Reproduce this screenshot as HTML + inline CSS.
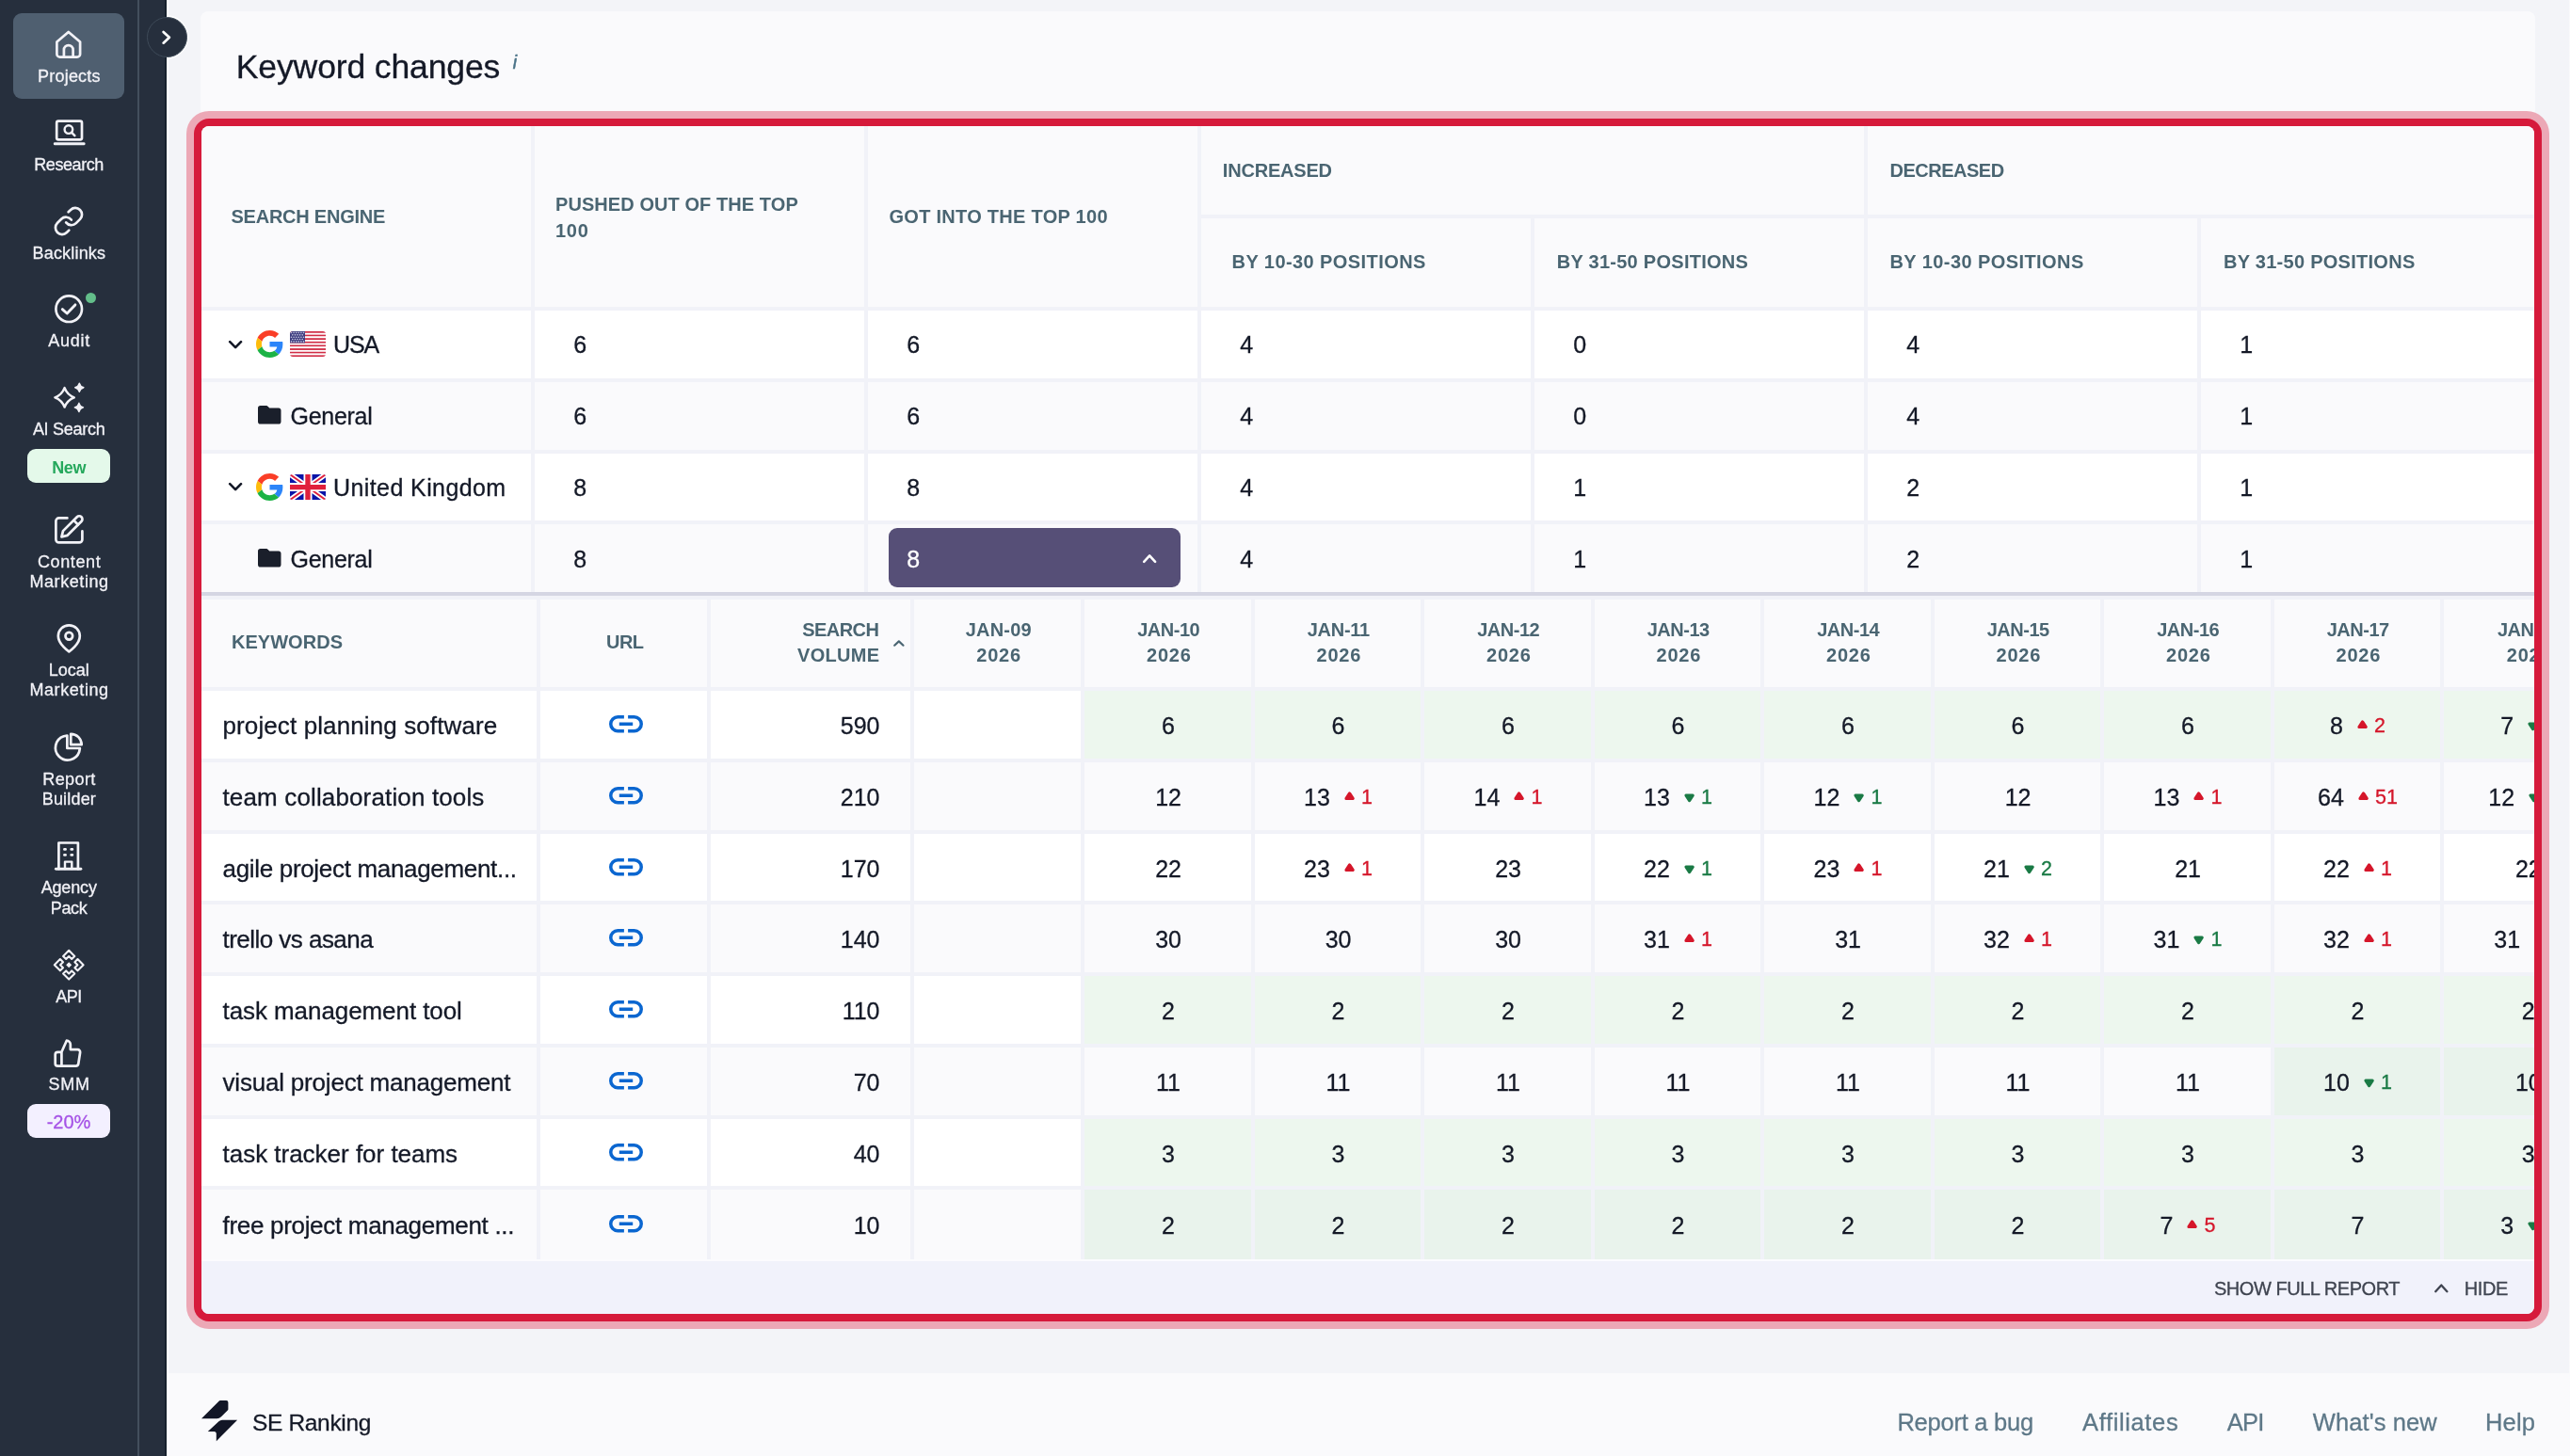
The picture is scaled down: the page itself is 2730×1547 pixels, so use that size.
<!DOCTYPE html>
<html lang="en"><head><meta charset="utf-8"><title>Keyword changes</title>
<style>
html,body{margin:0;padding:0}
body{width:2730px;height:1547px;background:#F3F4F8;position:relative;font-family:"Liberation Sans",sans-serif;color:#141927}
div{box-sizing:border-box}
#r{-webkit-text-stroke:0.3px}
svg{position:absolute;overflow:visible}
#r{position:absolute;left:0;top:0;width:2730px;height:1547px;overflow:hidden;will-change:transform}
</style></head><body><div id="r">
<div style="position:absolute;left:213px;top:12px;width:2480px;height:1388px;background:#FAFAFC;border-radius:8px;"></div>
<div style="position:absolute;top:54px;font-size:35.6px;line-height:35.6px;color:#141927;white-space:nowrap;letter-spacing:-0.165px;left:250.80px;">Keyword changes</div>
<div style="position:absolute;top:57px;font-size:19.5px;line-height:19.5px;color:#4B7388;white-space:nowrap;left:544.80px;font-style:italic;-webkit-text-stroke:0.5px;">i</div>
<div style="position:absolute;left:198px;top:118px;width:2510px;height:1294px;background:#ECA8B6;border-radius:24px;"></div>
<div style="position:absolute;left:206px;top:126px;width:2494px;height:1278px;background:#D61A3B;border-radius:16px;"></div>
<div style="position:absolute;left:214px;top:134px;width:2478px;height:1262px;border-radius:8px;overflow:hidden;background:#F1F2F8">
<div style="position:absolute;left:0px;top:0px;width:350px;height:192px;background:#FAFAFC;"></div>
<div style="position:absolute;left:354px;top:0px;width:350px;height:192px;background:#FAFAFC;"></div>
<div style="position:absolute;left:708px;top:0px;width:350px;height:192px;background:#FAFAFC;"></div>
<div style="position:absolute;left:1062px;top:0px;width:704px;height:94px;background:#FAFAFC;"></div>
<div style="position:absolute;left:1770px;top:0px;width:708px;height:94px;background:#FAFAFC;"></div>
<div style="position:absolute;left:1062px;top:98px;width:350px;height:94px;background:#FAFAFC;"></div>
<div style="position:absolute;left:1416px;top:98px;width:350px;height:94px;background:#FAFAFC;"></div>
<div style="position:absolute;left:1770px;top:98px;width:350px;height:94px;background:#FAFAFC;"></div>
<div style="position:absolute;left:2124px;top:98px;width:354px;height:94px;background:#FAFAFC;"></div>
<div style="position:absolute;top:86px;font-size:20px;line-height:20px;color:#4A6572;white-space:nowrap;font-weight:700;-webkit-text-stroke:0;letter-spacing:-0.238px;left:31.50px;">SEARCH ENGINE</div>
<div style="position:absolute;top:73px;font-size:20px;line-height:20px;color:#4A6572;white-space:nowrap;font-weight:700;-webkit-text-stroke:0;letter-spacing:0.071px;left:376.00px;">PUSHED OUT OF THE TOP</div>
<div style="position:absolute;top:101px;font-size:20px;line-height:20px;color:#4A6572;white-space:nowrap;font-weight:700;-webkit-text-stroke:0;letter-spacing:0.711px;left:376.00px;">100</div>
<div style="position:absolute;top:86px;font-size:20px;line-height:20px;color:#4A6572;white-space:nowrap;font-weight:700;-webkit-text-stroke:0;letter-spacing:0.279px;left:730.50px;">GOT INTO THE TOP 100</div>
<div style="position:absolute;top:37px;font-size:20px;line-height:20px;color:#4A6572;white-space:nowrap;font-weight:700;-webkit-text-stroke:0;letter-spacing:-0.200px;left:1084.80px;">INCREASED</div>
<div style="position:absolute;top:37px;font-size:20px;line-height:20px;color:#4A6572;white-space:nowrap;font-weight:700;-webkit-text-stroke:0;letter-spacing:-0.498px;left:1793.50px;">DECREASED</div>
<div style="position:absolute;top:134px;font-size:20px;line-height:20px;color:#4A6572;white-space:nowrap;font-weight:700;-webkit-text-stroke:0;letter-spacing:0.423px;left:1094.60px;">BY 10-30 POSITIONS</div>
<div style="position:absolute;top:134px;font-size:20px;line-height:20px;color:#4A6572;white-space:nowrap;font-weight:700;-webkit-text-stroke:0;letter-spacing:0.273px;left:1439.70px;">BY 31-50 POSITIONS</div>
<div style="position:absolute;top:134px;font-size:20px;line-height:20px;color:#4A6572;white-space:nowrap;font-weight:700;-webkit-text-stroke:0;letter-spacing:0.423px;left:1793.50px;">BY 10-30 POSITIONS</div>
<div style="position:absolute;top:134px;font-size:20px;line-height:20px;color:#4A6572;white-space:nowrap;font-weight:700;-webkit-text-stroke:0;letter-spacing:0.273px;left:2148.00px;">BY 31-50 POSITIONS</div>
<div style="position:absolute;left:0px;top:196px;width:350px;height:71.75px;background:#FFFFFF;"></div>
<div style="position:absolute;left:354px;top:196px;width:350px;height:71.75px;background:#FFFFFF;"></div>
<div style="position:absolute;left:708px;top:196px;width:350px;height:71.75px;background:#FFFFFF;"></div>
<div style="position:absolute;left:1062px;top:196px;width:350px;height:71.75px;background:#FFFFFF;"></div>
<div style="position:absolute;left:1416px;top:196px;width:350px;height:71.75px;background:#FFFFFF;"></div>
<div style="position:absolute;left:1770px;top:196px;width:350px;height:71.75px;background:#FFFFFF;"></div>
<div style="position:absolute;left:2124px;top:196px;width:354px;height:71.75px;background:#FFFFFF;"></div>
<svg style="left:28.80px;top:227.68px" width="14.2" height="8.5" viewBox="0 0 14.2 8.5" ><path d="M1.2 1.2 L7.1 7.1 L13.0 1.2" fill="none" stroke="#141927" stroke-width="2.6" stroke-linecap="round" stroke-linejoin="round"/></svg>
<svg style="left:57.60px;top:217.18px" width="29" height="29" viewBox="0 0 48 48" ><path fill="#FA3E27" d="M24 9.5c3.54 0 6.71 1.22 9.21 3.6l6.85-6.85C35.9 2.38 30.47 0 24 0 14.62 0 6.51 5.38 2.56 13.22l7.98 6.19C12.43 13.72 17.74 9.5 24 9.5z"/><path fill="#2C85F9" d="M46.98 24.55c0-1.57-.15-3.09-.38-4.55H24v9.02h12.94c-.58 2.96-2.26 5.48-4.78 7.18l7.73 6c4.51-4.18 7.09-10.36 7.09-17.65z"/><path fill="#FDBC0B" d="M10.53 28.59c-.48-1.45-.76-2.99-.76-4.59s.27-3.14.76-4.59l-7.98-6.19C.92 16.46 0 20.12 0 24c0 3.88.92 7.54 2.56 10.78l7.97-6.19z"/><path fill="#1CB345" d="M24 48c6.48 0 11.93-2.13 15.89-5.81l-7.73-6c-2.15 1.45-4.92 2.3-8.16 2.3-6.26 0-11.57-4.22-13.47-9.91l-7.98 6.19C6.51 42.62 14.62 48 24 48z"/></svg>
<svg style="overflow:hidden;border-radius:3.2px;left:93.80px;top:218.07px" width="38" height="27.2" viewBox="0 0 38 27.2" ><rect x="0" y="0.000" width="38" height="1.863" fill="#D02C45"/><rect x="0" y="1.813" width="38" height="1.863" fill="#FFFFFF"/><rect x="0" y="3.627" width="38" height="1.863" fill="#D02C45"/><rect x="0" y="5.440" width="38" height="1.863" fill="#FFFFFF"/><rect x="0" y="7.253" width="38" height="1.863" fill="#D02C45"/><rect x="0" y="9.067" width="38" height="1.863" fill="#FFFFFF"/><rect x="0" y="10.880" width="38" height="1.863" fill="#D02C45"/><rect x="0" y="12.693" width="38" height="1.863" fill="#FFFFFF"/><rect x="0" y="14.507" width="38" height="1.863" fill="#D02C45"/><rect x="0" y="16.320" width="38" height="1.863" fill="#FFFFFF"/><rect x="0" y="18.133" width="38" height="1.863" fill="#D02C45"/><rect x="0" y="19.947" width="38" height="1.863" fill="#FFFFFF"/><rect x="0" y="21.760" width="38" height="1.863" fill="#D02C45"/><rect x="0" y="23.573" width="38" height="1.863" fill="#FFFFFF"/><rect x="0" y="25.387" width="38" height="1.863" fill="#D02C45"/><rect x="0" y="0" width="16" height="12.4" fill="#3F3E80"/><circle cx="1.50" cy="1.50" r="0.8" fill="#C9C9E2"/><circle cx="4.10" cy="1.50" r="0.8" fill="#C9C9E2"/><circle cx="6.70" cy="1.50" r="0.8" fill="#C9C9E2"/><circle cx="9.30" cy="1.50" r="0.8" fill="#C9C9E2"/><circle cx="11.90" cy="1.50" r="0.8" fill="#C9C9E2"/><circle cx="14.50" cy="1.50" r="0.8" fill="#C9C9E2"/><circle cx="2.80" cy="3.85" r="0.8" fill="#C9C9E2"/><circle cx="5.40" cy="3.85" r="0.8" fill="#C9C9E2"/><circle cx="8.00" cy="3.85" r="0.8" fill="#C9C9E2"/><circle cx="10.60" cy="3.85" r="0.8" fill="#C9C9E2"/><circle cx="13.20" cy="3.85" r="0.8" fill="#C9C9E2"/><circle cx="1.50" cy="6.20" r="0.8" fill="#C9C9E2"/><circle cx="4.10" cy="6.20" r="0.8" fill="#C9C9E2"/><circle cx="6.70" cy="6.20" r="0.8" fill="#C9C9E2"/><circle cx="9.30" cy="6.20" r="0.8" fill="#C9C9E2"/><circle cx="11.90" cy="6.20" r="0.8" fill="#C9C9E2"/><circle cx="14.50" cy="6.20" r="0.8" fill="#C9C9E2"/><circle cx="2.80" cy="8.55" r="0.8" fill="#C9C9E2"/><circle cx="5.40" cy="8.55" r="0.8" fill="#C9C9E2"/><circle cx="8.00" cy="8.55" r="0.8" fill="#C9C9E2"/><circle cx="10.60" cy="8.55" r="0.8" fill="#C9C9E2"/><circle cx="13.20" cy="8.55" r="0.8" fill="#C9C9E2"/><circle cx="1.50" cy="10.90" r="0.8" fill="#C9C9E2"/><circle cx="4.10" cy="10.90" r="0.8" fill="#C9C9E2"/><circle cx="6.70" cy="10.90" r="0.8" fill="#C9C9E2"/><circle cx="9.30" cy="10.90" r="0.8" fill="#C9C9E2"/><circle cx="11.90" cy="10.90" r="0.8" fill="#C9C9E2"/><circle cx="14.50" cy="10.90" r="0.8" fill="#C9C9E2"/></svg>
<div style="position:absolute;top:220px;font-size:25px;line-height:25px;color:#141927;white-space:nowrap;letter-spacing:-1.135px;left:140.00px;">USA</div>
<div style="position:absolute;top:220px;font-size:25px;line-height:25px;color:#141927;white-space:nowrap;left:395.30px;">6</div>
<div style="position:absolute;top:220px;font-size:25px;line-height:25px;color:#141927;white-space:nowrap;left:749.30px;">6</div>
<div style="position:absolute;top:220px;font-size:25px;line-height:25px;color:#141927;white-space:nowrap;left:1103.30px;">4</div>
<div style="position:absolute;top:220px;font-size:25px;line-height:25px;color:#141927;white-space:nowrap;left:1457.30px;">0</div>
<div style="position:absolute;top:220px;font-size:25px;line-height:25px;color:#141927;white-space:nowrap;left:1811.30px;">4</div>
<div style="position:absolute;top:220px;font-size:25px;line-height:25px;color:#141927;white-space:nowrap;left:2165.30px;">1</div>
<div style="position:absolute;left:0px;top:271.75px;width:350px;height:71.75px;background:#FAFAFC;"></div>
<div style="position:absolute;left:354px;top:271.75px;width:350px;height:71.75px;background:#FAFAFC;"></div>
<div style="position:absolute;left:708px;top:271.75px;width:350px;height:71.75px;background:#FAFAFC;"></div>
<div style="position:absolute;left:1062px;top:271.75px;width:350px;height:71.75px;background:#FAFAFC;"></div>
<div style="position:absolute;left:1416px;top:271.75px;width:350px;height:71.75px;background:#FAFAFC;"></div>
<div style="position:absolute;left:1770px;top:271.75px;width:350px;height:71.75px;background:#FAFAFC;"></div>
<div style="position:absolute;left:2124px;top:271.75px;width:354px;height:71.75px;background:#FAFAFC;"></div>
<svg style="left:59.70px;top:297.43px" width="24.5" height="19.6" viewBox="0 0 24.5 19.6" ><path d="M2.6 0 H8.6 C9.6 0 10.2 0.4 10.8 1.1 L12.2 2.6 H22 C23.5 2.6 24.5 3.6 24.5 5.1 V17 C24.5 18.6 23.5 19.6 22 19.6 H2.6 C1 19.6 0 18.6 0 17 V2.6 C0 1 1 0 2.6 0 Z" fill="#1A1F2B"/></svg>
<div style="position:absolute;top:296px;font-size:25px;line-height:25px;color:#141927;white-space:nowrap;letter-spacing:-0.276px;left:94.50px;">General</div>
<div style="position:absolute;top:296px;font-size:25px;line-height:25px;color:#141927;white-space:nowrap;left:395.30px;">6</div>
<div style="position:absolute;top:296px;font-size:25px;line-height:25px;color:#141927;white-space:nowrap;left:749.30px;">6</div>
<div style="position:absolute;top:296px;font-size:25px;line-height:25px;color:#141927;white-space:nowrap;left:1103.30px;">4</div>
<div style="position:absolute;top:296px;font-size:25px;line-height:25px;color:#141927;white-space:nowrap;left:1457.30px;">0</div>
<div style="position:absolute;top:296px;font-size:25px;line-height:25px;color:#141927;white-space:nowrap;left:1811.30px;">4</div>
<div style="position:absolute;top:296px;font-size:25px;line-height:25px;color:#141927;white-space:nowrap;left:2165.30px;">1</div>
<div style="position:absolute;left:0px;top:347.5px;width:350px;height:71.75px;background:#FFFFFF;"></div>
<div style="position:absolute;left:354px;top:347.5px;width:350px;height:71.75px;background:#FFFFFF;"></div>
<div style="position:absolute;left:708px;top:347.5px;width:350px;height:71.75px;background:#FFFFFF;"></div>
<div style="position:absolute;left:1062px;top:347.5px;width:350px;height:71.75px;background:#FFFFFF;"></div>
<div style="position:absolute;left:1416px;top:347.5px;width:350px;height:71.75px;background:#FFFFFF;"></div>
<div style="position:absolute;left:1770px;top:347.5px;width:350px;height:71.75px;background:#FFFFFF;"></div>
<div style="position:absolute;left:2124px;top:347.5px;width:354px;height:71.75px;background:#FFFFFF;"></div>
<svg style="left:28.80px;top:379.17px" width="14.2" height="8.5" viewBox="0 0 14.2 8.5" ><path d="M1.2 1.2 L7.1 7.1 L13.0 1.2" fill="none" stroke="#141927" stroke-width="2.6" stroke-linecap="round" stroke-linejoin="round"/></svg>
<svg style="left:57.60px;top:368.68px" width="29" height="29" viewBox="0 0 48 48" ><path fill="#FA3E27" d="M24 9.5c3.54 0 6.71 1.22 9.21 3.6l6.85-6.85C35.9 2.38 30.47 0 24 0 14.62 0 6.51 5.38 2.56 13.22l7.98 6.19C12.43 13.72 17.74 9.5 24 9.5z"/><path fill="#2C85F9" d="M46.98 24.55c0-1.57-.15-3.09-.38-4.55H24v9.02h12.94c-.58 2.96-2.26 5.48-4.78 7.18l7.73 6c4.51-4.18 7.09-10.36 7.09-17.65z"/><path fill="#FDBC0B" d="M10.53 28.59c-.48-1.45-.76-2.99-.76-4.59s.27-3.14.76-4.59l-7.98-6.19C.92 16.46 0 20.12 0 24c0 3.88.92 7.54 2.56 10.78l7.97-6.19z"/><path fill="#1CB345" d="M24 48c6.48 0 11.93-2.13 15.89-5.81l-7.73-6c-2.15 1.45-4.92 2.3-8.16 2.3-6.26 0-11.57-4.22-13.47-9.91l-7.98 6.19C6.51 42.62 14.62 48 24 48z"/></svg>
<svg style="overflow:hidden;border-radius:2.5px;left:93.80px;top:369.57px" width="38" height="27.2" viewBox="0 0 38 27.2" ><rect width="38" height="27.2" fill="#0B14A8"/><path d="M0 0 L38 27.2 M38 0 L0 27.2" stroke="#FFFFFF" stroke-width="5.4"/><path d="M0 0 L38 27.2 M38 0 L0 27.2" stroke="#E0203C" stroke-width="1.9"/><path d="M19 0 V27.2 M0 13.6 H38" stroke="#FFFFFF" stroke-width="9"/><path d="M19 0 V27.2 M0 13.6 H38" stroke="#E0203C" stroke-width="5.4"/></svg>
<div style="position:absolute;top:372px;font-size:25px;line-height:25px;color:#141927;white-space:nowrap;letter-spacing:0.409px;left:140.00px;">United Kingdom</div>
<div style="position:absolute;top:372px;font-size:25px;line-height:25px;color:#141927;white-space:nowrap;left:395.30px;">8</div>
<div style="position:absolute;top:372px;font-size:25px;line-height:25px;color:#141927;white-space:nowrap;left:749.30px;">8</div>
<div style="position:absolute;top:372px;font-size:25px;line-height:25px;color:#141927;white-space:nowrap;left:1103.30px;">4</div>
<div style="position:absolute;top:372px;font-size:25px;line-height:25px;color:#141927;white-space:nowrap;left:1457.30px;">1</div>
<div style="position:absolute;top:372px;font-size:25px;line-height:25px;color:#141927;white-space:nowrap;left:1811.30px;">2</div>
<div style="position:absolute;top:372px;font-size:25px;line-height:25px;color:#141927;white-space:nowrap;left:2165.30px;">1</div>
<div style="position:absolute;left:0px;top:423.25px;width:350px;height:71.75px;background:#FAFAFC;"></div>
<div style="position:absolute;left:354px;top:423.25px;width:350px;height:71.75px;background:#FAFAFC;"></div>
<div style="position:absolute;left:708px;top:423.25px;width:350px;height:71.75px;background:#FAFAFC;"></div>
<div style="position:absolute;left:1062px;top:423.25px;width:350px;height:71.75px;background:#FAFAFC;"></div>
<div style="position:absolute;left:1416px;top:423.25px;width:350px;height:71.75px;background:#FAFAFC;"></div>
<div style="position:absolute;left:1770px;top:423.25px;width:350px;height:71.75px;background:#FAFAFC;"></div>
<div style="position:absolute;left:2124px;top:423.25px;width:354px;height:71.75px;background:#FAFAFC;"></div>
<svg style="left:59.70px;top:448.92px" width="24.5" height="19.6" viewBox="0 0 24.5 19.6" ><path d="M2.6 0 H8.6 C9.6 0 10.2 0.4 10.8 1.1 L12.2 2.6 H22 C23.5 2.6 24.5 3.6 24.5 5.1 V17 C24.5 18.6 23.5 19.6 22 19.6 H2.6 C1 19.6 0 18.6 0 17 V2.6 C0 1 1 0 2.6 0 Z" fill="#1A1F2B"/></svg>
<div style="position:absolute;top:448px;font-size:25px;line-height:25px;color:#141927;white-space:nowrap;letter-spacing:-0.276px;left:94.50px;">General</div>
<div style="position:absolute;top:448px;font-size:25px;line-height:25px;color:#141927;white-space:nowrap;left:395.30px;">8</div>
<div style="position:absolute;left:730px;top:427.3px;width:310px;height:62.9px;background:#564F77;border-radius:9px;"></div>
<div style="position:absolute;top:448px;font-size:25px;line-height:25px;color:#FFFFFF;white-space:nowrap;left:749.30px;">8</div>
<svg style="left:999.70px;top:455.00px" width="14.3" height="9" viewBox="0 0 14.3 9" ><path d="M1.2 7.8 L7.15 1.4 L13.100000000000001 7.8" fill="none" stroke="#FFFFFF" stroke-width="2.6" stroke-linecap="round" stroke-linejoin="round"/></svg>
<div style="position:absolute;top:448px;font-size:25px;line-height:25px;color:#141927;white-space:nowrap;left:1103.30px;">4</div>
<div style="position:absolute;top:448px;font-size:25px;line-height:25px;color:#141927;white-space:nowrap;left:1457.30px;">1</div>
<div style="position:absolute;top:448px;font-size:25px;line-height:25px;color:#141927;white-space:nowrap;left:1811.30px;">2</div>
<div style="position:absolute;top:448px;font-size:25px;line-height:25px;color:#141927;white-space:nowrap;left:2165.30px;">1</div>
<div style="position:absolute;left:0px;top:495px;width:2478px;height:4px;background:#D5D6E3;"></div>
<div style="position:absolute;left:0px;top:502.5px;width:356px;height:93.5px;background:#FAFAFC;"></div>
<div style="position:absolute;left:360px;top:502.5px;width:176.5px;height:93.5px;background:#FAFAFC;"></div>
<div style="position:absolute;left:540.5px;top:502.5px;width:212.5px;height:93.5px;background:#FAFAFC;"></div>
<div style="position:absolute;left:757px;top:502.5px;width:177px;height:93.5px;background:#FAFAFC;"></div>
<div style="position:absolute;left:938px;top:502.5px;width:176.5px;height:93.5px;background:#FAFAFC;"></div>
<div style="position:absolute;left:1118.5px;top:502.5px;width:176.5px;height:93.5px;background:#FAFAFC;"></div>
<div style="position:absolute;left:1299px;top:502.5px;width:176.5px;height:93.5px;background:#FAFAFC;"></div>
<div style="position:absolute;left:1479.5px;top:502.5px;width:176.5px;height:93.5px;background:#FAFAFC;"></div>
<div style="position:absolute;left:1660px;top:502.5px;width:176.5px;height:93.5px;background:#FAFAFC;"></div>
<div style="position:absolute;left:1840.5px;top:502.5px;width:176.5px;height:93.5px;background:#FAFAFC;"></div>
<div style="position:absolute;left:2021px;top:502.5px;width:176.5px;height:93.5px;background:#FAFAFC;"></div>
<div style="position:absolute;left:2201.5px;top:502.5px;width:176.5px;height:93.5px;background:#FAFAFC;"></div>
<div style="position:absolute;left:2382px;top:502.5px;width:178px;height:93.5px;background:#FAFAFC;"></div>
<div style="position:absolute;top:538px;font-size:20px;line-height:20px;color:#4A6572;white-space:nowrap;font-weight:700;-webkit-text-stroke:0;letter-spacing:0.027px;left:32.00px;">KEYWORDS</div>
<div style="position:absolute;top:538px;font-size:20px;line-height:20px;color:#4A6572;white-space:nowrap;font-weight:700;-webkit-text-stroke:0;letter-spacing:-0.568px;left:369.72px;width:160px;text-align:center;">URL</div>
<div style="position:absolute;top:525px;font-size:20px;line-height:20px;color:#4A6572;white-space:nowrap;font-weight:700;-webkit-text-stroke:0;letter-spacing:-0.526px;left:519.47px;width:200px;text-align:right;">SEARCH</div>
<div style="position:absolute;top:552px;font-size:20px;line-height:20px;color:#4A6572;white-space:nowrap;font-weight:700;-webkit-text-stroke:0;letter-spacing:0.274px;left:520.27px;width:200px;text-align:right;">VOLUME</div>
<svg style="left:735.20px;top:545.80px" width="11.7" height="6.9" viewBox="0 0 11.7 6.9" ><path d="M1.2 5.7 L5.85 1.4 L10.5 5.7" fill="none" stroke="#4A6572" stroke-width="2.2" stroke-linecap="round" stroke-linejoin="round"/></svg>
<div style="position:absolute;top:525px;font-size:20px;line-height:20px;color:#4A6572;white-space:nowrap;font-weight:700;-webkit-text-stroke:0;letter-spacing:0.181px;left:761.79px;width:170px;text-align:center;">JAN-09</div>
<div style="position:absolute;top:552px;font-size:20px;line-height:20px;color:#4A6572;white-space:nowrap;font-weight:700;-webkit-text-stroke:0;letter-spacing:0.728px;left:762.06px;width:170px;text-align:center;">2026</div>
<div style="position:absolute;top:525px;font-size:20px;line-height:20px;color:#4A6572;white-space:nowrap;font-weight:700;-webkit-text-stroke:0;letter-spacing:-0.485px;left:942.21px;width:170px;text-align:center;">JAN-10</div>
<div style="position:absolute;top:552px;font-size:20px;line-height:20px;color:#4A6572;white-space:nowrap;font-weight:700;-webkit-text-stroke:0;letter-spacing:0.728px;left:942.81px;width:170px;text-align:center;">2026</div>
<div style="position:absolute;top:525px;font-size:20px;line-height:20px;color:#4A6572;white-space:nowrap;font-weight:700;-webkit-text-stroke:0;letter-spacing:-0.302px;left:1122.80px;width:170px;text-align:center;">JAN-11</div>
<div style="position:absolute;top:552px;font-size:20px;line-height:20px;color:#4A6572;white-space:nowrap;font-weight:700;-webkit-text-stroke:0;letter-spacing:0.728px;left:1123.31px;width:170px;text-align:center;">2026</div>
<div style="position:absolute;top:525px;font-size:20px;line-height:20px;color:#4A6572;white-space:nowrap;font-weight:700;-webkit-text-stroke:0;letter-spacing:-0.485px;left:1303.21px;width:170px;text-align:center;">JAN-12</div>
<div style="position:absolute;top:552px;font-size:20px;line-height:20px;color:#4A6572;white-space:nowrap;font-weight:700;-webkit-text-stroke:0;letter-spacing:0.728px;left:1303.81px;width:170px;text-align:center;">2026</div>
<div style="position:absolute;top:525px;font-size:20px;line-height:20px;color:#4A6572;white-space:nowrap;font-weight:700;-webkit-text-stroke:0;letter-spacing:-0.485px;left:1483.71px;width:170px;text-align:center;">JAN-13</div>
<div style="position:absolute;top:552px;font-size:20px;line-height:20px;color:#4A6572;white-space:nowrap;font-weight:700;-webkit-text-stroke:0;letter-spacing:0.728px;left:1484.31px;width:170px;text-align:center;">2026</div>
<div style="position:absolute;top:525px;font-size:20px;line-height:20px;color:#4A6572;white-space:nowrap;font-weight:700;-webkit-text-stroke:0;letter-spacing:-0.485px;left:1664.21px;width:170px;text-align:center;">JAN-14</div>
<div style="position:absolute;top:552px;font-size:20px;line-height:20px;color:#4A6572;white-space:nowrap;font-weight:700;-webkit-text-stroke:0;letter-spacing:0.728px;left:1664.81px;width:170px;text-align:center;">2026</div>
<div style="position:absolute;top:525px;font-size:20px;line-height:20px;color:#4A6572;white-space:nowrap;font-weight:700;-webkit-text-stroke:0;letter-spacing:-0.485px;left:1844.71px;width:170px;text-align:center;">JAN-15</div>
<div style="position:absolute;top:552px;font-size:20px;line-height:20px;color:#4A6572;white-space:nowrap;font-weight:700;-webkit-text-stroke:0;letter-spacing:0.728px;left:1845.31px;width:170px;text-align:center;">2026</div>
<div style="position:absolute;top:525px;font-size:20px;line-height:20px;color:#4A6572;white-space:nowrap;font-weight:700;-webkit-text-stroke:0;letter-spacing:-0.485px;left:2025.21px;width:170px;text-align:center;">JAN-16</div>
<div style="position:absolute;top:552px;font-size:20px;line-height:20px;color:#4A6572;white-space:nowrap;font-weight:700;-webkit-text-stroke:0;letter-spacing:0.728px;left:2025.81px;width:170px;text-align:center;">2026</div>
<div style="position:absolute;top:525px;font-size:20px;line-height:20px;color:#4A6572;white-space:nowrap;font-weight:700;-webkit-text-stroke:0;letter-spacing:-0.485px;left:2205.71px;width:170px;text-align:center;">JAN-17</div>
<div style="position:absolute;top:552px;font-size:20px;line-height:20px;color:#4A6572;white-space:nowrap;font-weight:700;-webkit-text-stroke:0;letter-spacing:0.728px;left:2206.31px;width:170px;text-align:center;">2026</div>
<div style="position:absolute;top:525px;font-size:20px;line-height:20px;color:#4A6572;white-space:nowrap;font-weight:700;-webkit-text-stroke:0;letter-spacing:-0.485px;left:2386.96px;width:170px;text-align:center;">JAN-18</div>
<div style="position:absolute;top:552px;font-size:20px;line-height:20px;color:#4A6572;white-space:nowrap;font-weight:700;-webkit-text-stroke:0;letter-spacing:0.728px;left:2387.56px;width:170px;text-align:center;">2026</div>
<div style="position:absolute;left:0px;top:600px;width:356px;height:71.75px;background:#FFFFFF;"></div>
<div style="position:absolute;left:360px;top:600px;width:176.5px;height:71.75px;background:#FFFFFF;"></div>
<div style="position:absolute;left:540.5px;top:600px;width:212.5px;height:71.75px;background:#FFFFFF;"></div>
<div style="position:absolute;left:757px;top:600px;width:177px;height:71.75px;background:#FFFFFF;"></div>
<div style="position:absolute;left:938px;top:600px;width:176.5px;height:71.75px;background:#EDF7EE;"></div>
<div style="position:absolute;left:1118.5px;top:600px;width:176.5px;height:71.75px;background:#EDF7EE;"></div>
<div style="position:absolute;left:1299px;top:600px;width:176.5px;height:71.75px;background:#EDF7EE;"></div>
<div style="position:absolute;left:1479.5px;top:600px;width:176.5px;height:71.75px;background:#EDF7EE;"></div>
<div style="position:absolute;left:1660px;top:600px;width:176.5px;height:71.75px;background:#EDF7EE;"></div>
<div style="position:absolute;left:1840.5px;top:600px;width:176.5px;height:71.75px;background:#EDF7EE;"></div>
<div style="position:absolute;left:2021px;top:600px;width:176.5px;height:71.75px;background:#EDF7EE;"></div>
<div style="position:absolute;left:2201.5px;top:600px;width:176.5px;height:71.75px;background:#EDF7EE;"></div>
<div style="position:absolute;left:2382px;top:600px;width:178px;height:71.75px;background:#EDF7EE;"></div>
<div style="position:absolute;top:624px;font-size:26px;line-height:26px;color:#141927;white-space:nowrap;letter-spacing:0.110px;left:22.50px;">project planning software</div>
<svg style="left:432.60px;top:626.17px" width="36" height="18.5" viewBox="0 0 36 18.5" ><path d="M15.9 1.75 H9.25 a7.5 7.5 0 0 0 0 15.0 H15.9" fill="none" stroke="#0A66D0" stroke-width="3.5"/><path d="M20.1 1.75 H26.75 a7.5 7.5 0 0 1 0 15.0 H20.1" fill="none" stroke="#0A66D0" stroke-width="3.5"/><path d="M10.8 9.25 H25.2" stroke="#0A66D0" stroke-width="3.5"/></svg>
<div style="position:absolute;top:625px;font-size:25px;line-height:25px;color:#141927;white-space:nowrap;left:520.50px;width:200px;text-align:right;">590</div>
<div style="position:absolute;left:939.05px;top:625px;width:176px;height:25px;display:flex;align-items:baseline;justify-content:center;font-size:25px;line-height:25px;white-space:nowrap"><span>6</span></div>
<div style="position:absolute;left:1119.55px;top:625px;width:176px;height:25px;display:flex;align-items:baseline;justify-content:center;font-size:25px;line-height:25px;white-space:nowrap"><span>6</span></div>
<div style="position:absolute;left:1300.05px;top:625px;width:176px;height:25px;display:flex;align-items:baseline;justify-content:center;font-size:25px;line-height:25px;white-space:nowrap"><span>6</span></div>
<div style="position:absolute;left:1480.55px;top:625px;width:176px;height:25px;display:flex;align-items:baseline;justify-content:center;font-size:25px;line-height:25px;white-space:nowrap"><span>6</span></div>
<div style="position:absolute;left:1661.05px;top:625px;width:176px;height:25px;display:flex;align-items:baseline;justify-content:center;font-size:25px;line-height:25px;white-space:nowrap"><span>6</span></div>
<div style="position:absolute;left:1841.55px;top:625px;width:176px;height:25px;display:flex;align-items:baseline;justify-content:center;font-size:25px;line-height:25px;white-space:nowrap"><span>6</span></div>
<div style="position:absolute;left:2022.05px;top:625px;width:176px;height:25px;display:flex;align-items:baseline;justify-content:center;font-size:25px;line-height:25px;white-space:nowrap"><span>6</span></div>
<div style="position:absolute;left:2202.55px;top:625px;width:176px;height:25px;display:flex;align-items:baseline;justify-content:center;font-size:25px;line-height:25px;white-space:nowrap"><span>8</span><svg style="position:relative;margin-left:15px;top:-5.2px;flex:none" width="11.2" height="9.6" viewBox="0 0 11.2 9.6"><path d="M5.6 2.0 L9.2 7.4 H2 Z" fill="#D5162A" stroke="#D5162A" stroke-width="3.2" stroke-linejoin="round"/></svg><span style="font-size:21.5px;color:#D5162A;margin-left:7px;position:relative;top:-2px">2</span></div>
<div style="position:absolute;left:2383.80px;top:625px;width:176px;height:25px;display:flex;align-items:baseline;justify-content:center;font-size:25px;line-height:25px;white-space:nowrap"><span>7</span><svg style="position:relative;margin-left:15px;top:-3.8px;flex:none" width="11.2" height="9.6" viewBox="0 0 11.2 9.6"><path d="M2 2.2 H9.2 L5.6 7.6 Z" fill="#1A7A45" stroke="#1A7A45" stroke-width="3.2" stroke-linejoin="round"/></svg><span style="font-size:21.5px;color:#1A7A45;margin-left:7px;position:relative;top:-2px">1</span></div>
<div style="position:absolute;left:0px;top:675.75px;width:356px;height:71.75px;background:#FAFAFC;"></div>
<div style="position:absolute;left:360px;top:675.75px;width:176.5px;height:71.75px;background:#FAFAFC;"></div>
<div style="position:absolute;left:540.5px;top:675.75px;width:212.5px;height:71.75px;background:#FAFAFC;"></div>
<div style="position:absolute;left:757px;top:675.75px;width:177px;height:71.75px;background:#FAFAFC;"></div>
<div style="position:absolute;left:938px;top:675.75px;width:176.5px;height:71.75px;background:#FAFAFC;"></div>
<div style="position:absolute;left:1118.5px;top:675.75px;width:176.5px;height:71.75px;background:#FAFAFC;"></div>
<div style="position:absolute;left:1299px;top:675.75px;width:176.5px;height:71.75px;background:#FAFAFC;"></div>
<div style="position:absolute;left:1479.5px;top:675.75px;width:176.5px;height:71.75px;background:#FAFAFC;"></div>
<div style="position:absolute;left:1660px;top:675.75px;width:176.5px;height:71.75px;background:#FAFAFC;"></div>
<div style="position:absolute;left:1840.5px;top:675.75px;width:176.5px;height:71.75px;background:#FAFAFC;"></div>
<div style="position:absolute;left:2021px;top:675.75px;width:176.5px;height:71.75px;background:#FAFAFC;"></div>
<div style="position:absolute;left:2201.5px;top:675.75px;width:176.5px;height:71.75px;background:#FAFAFC;"></div>
<div style="position:absolute;left:2382px;top:675.75px;width:178px;height:71.75px;background:#FAFAFC;"></div>
<div style="position:absolute;top:700px;font-size:26px;line-height:26px;color:#141927;white-space:nowrap;letter-spacing:0.142px;left:22.50px;">team collaboration tools</div>
<svg style="left:432.60px;top:701.92px" width="36" height="18.5" viewBox="0 0 36 18.5" ><path d="M15.9 1.75 H9.25 a7.5 7.5 0 0 0 0 15.0 H15.9" fill="none" stroke="#0A66D0" stroke-width="3.5"/><path d="M20.1 1.75 H26.75 a7.5 7.5 0 0 1 0 15.0 H20.1" fill="none" stroke="#0A66D0" stroke-width="3.5"/><path d="M10.8 9.25 H25.2" stroke="#0A66D0" stroke-width="3.5"/></svg>
<div style="position:absolute;top:701px;font-size:25px;line-height:25px;color:#141927;white-space:nowrap;left:520.50px;width:200px;text-align:right;">210</div>
<div style="position:absolute;left:939.05px;top:701px;width:176px;height:25px;display:flex;align-items:baseline;justify-content:center;font-size:25px;line-height:25px;white-space:nowrap"><span>12</span></div>
<div style="position:absolute;left:1119.55px;top:701px;width:176px;height:25px;display:flex;align-items:baseline;justify-content:center;font-size:25px;line-height:25px;white-space:nowrap"><span>13</span><svg style="position:relative;margin-left:15px;top:-5.2px;flex:none" width="11.2" height="9.6" viewBox="0 0 11.2 9.6"><path d="M5.6 2.0 L9.2 7.4 H2 Z" fill="#D5162A" stroke="#D5162A" stroke-width="3.2" stroke-linejoin="round"/></svg><span style="font-size:21.5px;color:#D5162A;margin-left:7px;position:relative;top:-2px">1</span></div>
<div style="position:absolute;left:1300.05px;top:701px;width:176px;height:25px;display:flex;align-items:baseline;justify-content:center;font-size:25px;line-height:25px;white-space:nowrap"><span>14</span><svg style="position:relative;margin-left:15px;top:-5.2px;flex:none" width="11.2" height="9.6" viewBox="0 0 11.2 9.6"><path d="M5.6 2.0 L9.2 7.4 H2 Z" fill="#D5162A" stroke="#D5162A" stroke-width="3.2" stroke-linejoin="round"/></svg><span style="font-size:21.5px;color:#D5162A;margin-left:7px;position:relative;top:-2px">1</span></div>
<div style="position:absolute;left:1480.55px;top:701px;width:176px;height:25px;display:flex;align-items:baseline;justify-content:center;font-size:25px;line-height:25px;white-space:nowrap"><span>13</span><svg style="position:relative;margin-left:15px;top:-3.8px;flex:none" width="11.2" height="9.6" viewBox="0 0 11.2 9.6"><path d="M2 2.2 H9.2 L5.6 7.6 Z" fill="#1A7A45" stroke="#1A7A45" stroke-width="3.2" stroke-linejoin="round"/></svg><span style="font-size:21.5px;color:#1A7A45;margin-left:7px;position:relative;top:-2px">1</span></div>
<div style="position:absolute;left:1661.05px;top:701px;width:176px;height:25px;display:flex;align-items:baseline;justify-content:center;font-size:25px;line-height:25px;white-space:nowrap"><span>12</span><svg style="position:relative;margin-left:15px;top:-3.8px;flex:none" width="11.2" height="9.6" viewBox="0 0 11.2 9.6"><path d="M2 2.2 H9.2 L5.6 7.6 Z" fill="#1A7A45" stroke="#1A7A45" stroke-width="3.2" stroke-linejoin="round"/></svg><span style="font-size:21.5px;color:#1A7A45;margin-left:7px;position:relative;top:-2px">1</span></div>
<div style="position:absolute;left:1841.55px;top:701px;width:176px;height:25px;display:flex;align-items:baseline;justify-content:center;font-size:25px;line-height:25px;white-space:nowrap"><span>12</span></div>
<div style="position:absolute;left:2022.05px;top:701px;width:176px;height:25px;display:flex;align-items:baseline;justify-content:center;font-size:25px;line-height:25px;white-space:nowrap"><span>13</span><svg style="position:relative;margin-left:15px;top:-5.2px;flex:none" width="11.2" height="9.6" viewBox="0 0 11.2 9.6"><path d="M5.6 2.0 L9.2 7.4 H2 Z" fill="#D5162A" stroke="#D5162A" stroke-width="3.2" stroke-linejoin="round"/></svg><span style="font-size:21.5px;color:#D5162A;margin-left:7px;position:relative;top:-2px">1</span></div>
<div style="position:absolute;left:2202.55px;top:701px;width:176px;height:25px;display:flex;align-items:baseline;justify-content:center;font-size:25px;line-height:25px;white-space:nowrap"><span>64</span><svg style="position:relative;margin-left:15px;top:-5.2px;flex:none" width="11.2" height="9.6" viewBox="0 0 11.2 9.6"><path d="M5.6 2.0 L9.2 7.4 H2 Z" fill="#D5162A" stroke="#D5162A" stroke-width="3.2" stroke-linejoin="round"/></svg><span style="font-size:21.5px;color:#D5162A;margin-left:7px;position:relative;top:-2px">51</span></div>
<div style="position:absolute;left:2383.80px;top:701px;width:176px;height:25px;display:flex;align-items:baseline;justify-content:center;font-size:25px;line-height:25px;white-space:nowrap"><span>12</span><svg style="position:relative;margin-left:15px;top:-3.8px;flex:none" width="11.2" height="9.6" viewBox="0 0 11.2 9.6"><path d="M2 2.2 H9.2 L5.6 7.6 Z" fill="#1A7A45" stroke="#1A7A45" stroke-width="3.2" stroke-linejoin="round"/></svg><span style="font-size:21.5px;color:#1A7A45;margin-left:7px;position:relative;top:-2px">52</span></div>
<div style="position:absolute;left:0px;top:751.5px;width:356px;height:71.75px;background:#FFFFFF;"></div>
<div style="position:absolute;left:360px;top:751.5px;width:176.5px;height:71.75px;background:#FFFFFF;"></div>
<div style="position:absolute;left:540.5px;top:751.5px;width:212.5px;height:71.75px;background:#FFFFFF;"></div>
<div style="position:absolute;left:757px;top:751.5px;width:177px;height:71.75px;background:#FFFFFF;"></div>
<div style="position:absolute;left:938px;top:751.5px;width:176.5px;height:71.75px;background:#FFFFFF;"></div>
<div style="position:absolute;left:1118.5px;top:751.5px;width:176.5px;height:71.75px;background:#FFFFFF;"></div>
<div style="position:absolute;left:1299px;top:751.5px;width:176.5px;height:71.75px;background:#FFFFFF;"></div>
<div style="position:absolute;left:1479.5px;top:751.5px;width:176.5px;height:71.75px;background:#FFFFFF;"></div>
<div style="position:absolute;left:1660px;top:751.5px;width:176.5px;height:71.75px;background:#FFFFFF;"></div>
<div style="position:absolute;left:1840.5px;top:751.5px;width:176.5px;height:71.75px;background:#FFFFFF;"></div>
<div style="position:absolute;left:2021px;top:751.5px;width:176.5px;height:71.75px;background:#FFFFFF;"></div>
<div style="position:absolute;left:2201.5px;top:751.5px;width:176.5px;height:71.75px;background:#FFFFFF;"></div>
<div style="position:absolute;left:2382px;top:751.5px;width:178px;height:71.75px;background:#FFFFFF;"></div>
<div style="position:absolute;top:776px;font-size:26px;line-height:26px;color:#141927;white-space:nowrap;letter-spacing:-0.319px;left:22.50px;">agile project management...</div>
<svg style="left:432.60px;top:777.67px" width="36" height="18.5" viewBox="0 0 36 18.5" ><path d="M15.9 1.75 H9.25 a7.5 7.5 0 0 0 0 15.0 H15.9" fill="none" stroke="#0A66D0" stroke-width="3.5"/><path d="M20.1 1.75 H26.75 a7.5 7.5 0 0 1 0 15.0 H20.1" fill="none" stroke="#0A66D0" stroke-width="3.5"/><path d="M10.8 9.25 H25.2" stroke="#0A66D0" stroke-width="3.5"/></svg>
<div style="position:absolute;top:777px;font-size:25px;line-height:25px;color:#141927;white-space:nowrap;left:520.50px;width:200px;text-align:right;">170</div>
<div style="position:absolute;left:939.05px;top:777px;width:176px;height:25px;display:flex;align-items:baseline;justify-content:center;font-size:25px;line-height:25px;white-space:nowrap"><span>22</span></div>
<div style="position:absolute;left:1119.55px;top:777px;width:176px;height:25px;display:flex;align-items:baseline;justify-content:center;font-size:25px;line-height:25px;white-space:nowrap"><span>23</span><svg style="position:relative;margin-left:15px;top:-5.2px;flex:none" width="11.2" height="9.6" viewBox="0 0 11.2 9.6"><path d="M5.6 2.0 L9.2 7.4 H2 Z" fill="#D5162A" stroke="#D5162A" stroke-width="3.2" stroke-linejoin="round"/></svg><span style="font-size:21.5px;color:#D5162A;margin-left:7px;position:relative;top:-2px">1</span></div>
<div style="position:absolute;left:1300.05px;top:777px;width:176px;height:25px;display:flex;align-items:baseline;justify-content:center;font-size:25px;line-height:25px;white-space:nowrap"><span>23</span></div>
<div style="position:absolute;left:1480.55px;top:777px;width:176px;height:25px;display:flex;align-items:baseline;justify-content:center;font-size:25px;line-height:25px;white-space:nowrap"><span>22</span><svg style="position:relative;margin-left:15px;top:-3.8px;flex:none" width="11.2" height="9.6" viewBox="0 0 11.2 9.6"><path d="M2 2.2 H9.2 L5.6 7.6 Z" fill="#1A7A45" stroke="#1A7A45" stroke-width="3.2" stroke-linejoin="round"/></svg><span style="font-size:21.5px;color:#1A7A45;margin-left:7px;position:relative;top:-2px">1</span></div>
<div style="position:absolute;left:1661.05px;top:777px;width:176px;height:25px;display:flex;align-items:baseline;justify-content:center;font-size:25px;line-height:25px;white-space:nowrap"><span>23</span><svg style="position:relative;margin-left:15px;top:-5.2px;flex:none" width="11.2" height="9.6" viewBox="0 0 11.2 9.6"><path d="M5.6 2.0 L9.2 7.4 H2 Z" fill="#D5162A" stroke="#D5162A" stroke-width="3.2" stroke-linejoin="round"/></svg><span style="font-size:21.5px;color:#D5162A;margin-left:7px;position:relative;top:-2px">1</span></div>
<div style="position:absolute;left:1841.55px;top:777px;width:176px;height:25px;display:flex;align-items:baseline;justify-content:center;font-size:25px;line-height:25px;white-space:nowrap"><span>21</span><svg style="position:relative;margin-left:15px;top:-3.8px;flex:none" width="11.2" height="9.6" viewBox="0 0 11.2 9.6"><path d="M2 2.2 H9.2 L5.6 7.6 Z" fill="#1A7A45" stroke="#1A7A45" stroke-width="3.2" stroke-linejoin="round"/></svg><span style="font-size:21.5px;color:#1A7A45;margin-left:7px;position:relative;top:-2px">2</span></div>
<div style="position:absolute;left:2022.05px;top:777px;width:176px;height:25px;display:flex;align-items:baseline;justify-content:center;font-size:25px;line-height:25px;white-space:nowrap"><span>21</span></div>
<div style="position:absolute;left:2202.55px;top:777px;width:176px;height:25px;display:flex;align-items:baseline;justify-content:center;font-size:25px;line-height:25px;white-space:nowrap"><span>22</span><svg style="position:relative;margin-left:15px;top:-5.2px;flex:none" width="11.2" height="9.6" viewBox="0 0 11.2 9.6"><path d="M5.6 2.0 L9.2 7.4 H2 Z" fill="#D5162A" stroke="#D5162A" stroke-width="3.2" stroke-linejoin="round"/></svg><span style="font-size:21.5px;color:#D5162A;margin-left:7px;position:relative;top:-2px">1</span></div>
<div style="position:absolute;left:2383.80px;top:777px;width:176px;height:25px;display:flex;align-items:baseline;justify-content:center;font-size:25px;line-height:25px;white-space:nowrap"><span>22</span></div>
<div style="position:absolute;left:0px;top:827.25px;width:356px;height:71.75px;background:#FAFAFC;"></div>
<div style="position:absolute;left:360px;top:827.25px;width:176.5px;height:71.75px;background:#FAFAFC;"></div>
<div style="position:absolute;left:540.5px;top:827.25px;width:212.5px;height:71.75px;background:#FAFAFC;"></div>
<div style="position:absolute;left:757px;top:827.25px;width:177px;height:71.75px;background:#FAFAFC;"></div>
<div style="position:absolute;left:938px;top:827.25px;width:176.5px;height:71.75px;background:#FAFAFC;"></div>
<div style="position:absolute;left:1118.5px;top:827.25px;width:176.5px;height:71.75px;background:#FAFAFC;"></div>
<div style="position:absolute;left:1299px;top:827.25px;width:176.5px;height:71.75px;background:#FAFAFC;"></div>
<div style="position:absolute;left:1479.5px;top:827.25px;width:176.5px;height:71.75px;background:#FAFAFC;"></div>
<div style="position:absolute;left:1660px;top:827.25px;width:176.5px;height:71.75px;background:#FAFAFC;"></div>
<div style="position:absolute;left:1840.5px;top:827.25px;width:176.5px;height:71.75px;background:#FAFAFC;"></div>
<div style="position:absolute;left:2021px;top:827.25px;width:176.5px;height:71.75px;background:#FAFAFC;"></div>
<div style="position:absolute;left:2201.5px;top:827.25px;width:176.5px;height:71.75px;background:#FAFAFC;"></div>
<div style="position:absolute;left:2382px;top:827.25px;width:178px;height:71.75px;background:#FAFAFC;"></div>
<div style="position:absolute;top:851px;font-size:26px;line-height:26px;color:#141927;white-space:nowrap;letter-spacing:-0.535px;left:22.50px;">trello vs asana</div>
<svg style="left:432.60px;top:853.42px" width="36" height="18.5" viewBox="0 0 36 18.5" ><path d="M15.9 1.75 H9.25 a7.5 7.5 0 0 0 0 15.0 H15.9" fill="none" stroke="#0A66D0" stroke-width="3.5"/><path d="M20.1 1.75 H26.75 a7.5 7.5 0 0 1 0 15.0 H20.1" fill="none" stroke="#0A66D0" stroke-width="3.5"/><path d="M10.8 9.25 H25.2" stroke="#0A66D0" stroke-width="3.5"/></svg>
<div style="position:absolute;top:852px;font-size:25px;line-height:25px;color:#141927;white-space:nowrap;left:520.50px;width:200px;text-align:right;">140</div>
<div style="position:absolute;left:939.05px;top:852px;width:176px;height:25px;display:flex;align-items:baseline;justify-content:center;font-size:25px;line-height:25px;white-space:nowrap"><span>30</span></div>
<div style="position:absolute;left:1119.55px;top:852px;width:176px;height:25px;display:flex;align-items:baseline;justify-content:center;font-size:25px;line-height:25px;white-space:nowrap"><span>30</span></div>
<div style="position:absolute;left:1300.05px;top:852px;width:176px;height:25px;display:flex;align-items:baseline;justify-content:center;font-size:25px;line-height:25px;white-space:nowrap"><span>30</span></div>
<div style="position:absolute;left:1480.55px;top:852px;width:176px;height:25px;display:flex;align-items:baseline;justify-content:center;font-size:25px;line-height:25px;white-space:nowrap"><span>31</span><svg style="position:relative;margin-left:15px;top:-5.2px;flex:none" width="11.2" height="9.6" viewBox="0 0 11.2 9.6"><path d="M5.6 2.0 L9.2 7.4 H2 Z" fill="#D5162A" stroke="#D5162A" stroke-width="3.2" stroke-linejoin="round"/></svg><span style="font-size:21.5px;color:#D5162A;margin-left:7px;position:relative;top:-2px">1</span></div>
<div style="position:absolute;left:1661.05px;top:852px;width:176px;height:25px;display:flex;align-items:baseline;justify-content:center;font-size:25px;line-height:25px;white-space:nowrap"><span>31</span></div>
<div style="position:absolute;left:1841.55px;top:852px;width:176px;height:25px;display:flex;align-items:baseline;justify-content:center;font-size:25px;line-height:25px;white-space:nowrap"><span>32</span><svg style="position:relative;margin-left:15px;top:-5.2px;flex:none" width="11.2" height="9.6" viewBox="0 0 11.2 9.6"><path d="M5.6 2.0 L9.2 7.4 H2 Z" fill="#D5162A" stroke="#D5162A" stroke-width="3.2" stroke-linejoin="round"/></svg><span style="font-size:21.5px;color:#D5162A;margin-left:7px;position:relative;top:-2px">1</span></div>
<div style="position:absolute;left:2022.05px;top:852px;width:176px;height:25px;display:flex;align-items:baseline;justify-content:center;font-size:25px;line-height:25px;white-space:nowrap"><span>31</span><svg style="position:relative;margin-left:15px;top:-3.8px;flex:none" width="11.2" height="9.6" viewBox="0 0 11.2 9.6"><path d="M2 2.2 H9.2 L5.6 7.6 Z" fill="#1A7A45" stroke="#1A7A45" stroke-width="3.2" stroke-linejoin="round"/></svg><span style="font-size:21.5px;color:#1A7A45;margin-left:7px;position:relative;top:-2px">1</span></div>
<div style="position:absolute;left:2202.55px;top:852px;width:176px;height:25px;display:flex;align-items:baseline;justify-content:center;font-size:25px;line-height:25px;white-space:nowrap"><span>32</span><svg style="position:relative;margin-left:15px;top:-5.2px;flex:none" width="11.2" height="9.6" viewBox="0 0 11.2 9.6"><path d="M5.6 2.0 L9.2 7.4 H2 Z" fill="#D5162A" stroke="#D5162A" stroke-width="3.2" stroke-linejoin="round"/></svg><span style="font-size:21.5px;color:#D5162A;margin-left:7px;position:relative;top:-2px">1</span></div>
<div style="position:absolute;left:2383.80px;top:852px;width:176px;height:25px;display:flex;align-items:baseline;justify-content:center;font-size:25px;line-height:25px;white-space:nowrap"><span>31</span><svg style="position:relative;margin-left:15px;top:-3.8px;flex:none" width="11.2" height="9.6" viewBox="0 0 11.2 9.6"><path d="M2 2.2 H9.2 L5.6 7.6 Z" fill="#1A7A45" stroke="#1A7A45" stroke-width="3.2" stroke-linejoin="round"/></svg><span style="font-size:21.5px;color:#1A7A45;margin-left:7px;position:relative;top:-2px">1</span></div>
<div style="position:absolute;left:0px;top:903px;width:356px;height:71.75px;background:#FFFFFF;"></div>
<div style="position:absolute;left:360px;top:903px;width:176.5px;height:71.75px;background:#FFFFFF;"></div>
<div style="position:absolute;left:540.5px;top:903px;width:212.5px;height:71.75px;background:#FFFFFF;"></div>
<div style="position:absolute;left:757px;top:903px;width:177px;height:71.75px;background:#FFFFFF;"></div>
<div style="position:absolute;left:938px;top:903px;width:176.5px;height:71.75px;background:#EDF7EE;"></div>
<div style="position:absolute;left:1118.5px;top:903px;width:176.5px;height:71.75px;background:#EDF7EE;"></div>
<div style="position:absolute;left:1299px;top:903px;width:176.5px;height:71.75px;background:#EDF7EE;"></div>
<div style="position:absolute;left:1479.5px;top:903px;width:176.5px;height:71.75px;background:#EDF7EE;"></div>
<div style="position:absolute;left:1660px;top:903px;width:176.5px;height:71.75px;background:#EDF7EE;"></div>
<div style="position:absolute;left:1840.5px;top:903px;width:176.5px;height:71.75px;background:#EDF7EE;"></div>
<div style="position:absolute;left:2021px;top:903px;width:176.5px;height:71.75px;background:#EDF7EE;"></div>
<div style="position:absolute;left:2201.5px;top:903px;width:176.5px;height:71.75px;background:#EDF7EE;"></div>
<div style="position:absolute;left:2382px;top:903px;width:178px;height:71.75px;background:#EDF7EE;"></div>
<div style="position:absolute;top:927px;font-size:26px;line-height:26px;color:#141927;white-space:nowrap;letter-spacing:-0.075px;left:22.50px;">task management tool</div>
<svg style="left:432.60px;top:929.17px" width="36" height="18.5" viewBox="0 0 36 18.5" ><path d="M15.9 1.75 H9.25 a7.5 7.5 0 0 0 0 15.0 H15.9" fill="none" stroke="#0A66D0" stroke-width="3.5"/><path d="M20.1 1.75 H26.75 a7.5 7.5 0 0 1 0 15.0 H20.1" fill="none" stroke="#0A66D0" stroke-width="3.5"/><path d="M10.8 9.25 H25.2" stroke="#0A66D0" stroke-width="3.5"/></svg>
<div style="position:absolute;top:928px;font-size:25px;line-height:25px;color:#141927;white-space:nowrap;left:520.50px;width:200px;text-align:right;">110</div>
<div style="position:absolute;left:939.05px;top:928px;width:176px;height:25px;display:flex;align-items:baseline;justify-content:center;font-size:25px;line-height:25px;white-space:nowrap"><span>2</span></div>
<div style="position:absolute;left:1119.55px;top:928px;width:176px;height:25px;display:flex;align-items:baseline;justify-content:center;font-size:25px;line-height:25px;white-space:nowrap"><span>2</span></div>
<div style="position:absolute;left:1300.05px;top:928px;width:176px;height:25px;display:flex;align-items:baseline;justify-content:center;font-size:25px;line-height:25px;white-space:nowrap"><span>2</span></div>
<div style="position:absolute;left:1480.55px;top:928px;width:176px;height:25px;display:flex;align-items:baseline;justify-content:center;font-size:25px;line-height:25px;white-space:nowrap"><span>2</span></div>
<div style="position:absolute;left:1661.05px;top:928px;width:176px;height:25px;display:flex;align-items:baseline;justify-content:center;font-size:25px;line-height:25px;white-space:nowrap"><span>2</span></div>
<div style="position:absolute;left:1841.55px;top:928px;width:176px;height:25px;display:flex;align-items:baseline;justify-content:center;font-size:25px;line-height:25px;white-space:nowrap"><span>2</span></div>
<div style="position:absolute;left:2022.05px;top:928px;width:176px;height:25px;display:flex;align-items:baseline;justify-content:center;font-size:25px;line-height:25px;white-space:nowrap"><span>2</span></div>
<div style="position:absolute;left:2202.55px;top:928px;width:176px;height:25px;display:flex;align-items:baseline;justify-content:center;font-size:25px;line-height:25px;white-space:nowrap"><span>2</span></div>
<div style="position:absolute;left:2383.80px;top:928px;width:176px;height:25px;display:flex;align-items:baseline;justify-content:center;font-size:25px;line-height:25px;white-space:nowrap"><span>2</span></div>
<div style="position:absolute;left:0px;top:978.75px;width:356px;height:71.75px;background:#FAFAFC;"></div>
<div style="position:absolute;left:360px;top:978.75px;width:176.5px;height:71.75px;background:#FAFAFC;"></div>
<div style="position:absolute;left:540.5px;top:978.75px;width:212.5px;height:71.75px;background:#FAFAFC;"></div>
<div style="position:absolute;left:757px;top:978.75px;width:177px;height:71.75px;background:#FAFAFC;"></div>
<div style="position:absolute;left:938px;top:978.75px;width:176.5px;height:71.75px;background:#FAFAFC;"></div>
<div style="position:absolute;left:1118.5px;top:978.75px;width:176.5px;height:71.75px;background:#FAFAFC;"></div>
<div style="position:absolute;left:1299px;top:978.75px;width:176.5px;height:71.75px;background:#FAFAFC;"></div>
<div style="position:absolute;left:1479.5px;top:978.75px;width:176.5px;height:71.75px;background:#FAFAFC;"></div>
<div style="position:absolute;left:1660px;top:978.75px;width:176.5px;height:71.75px;background:#FAFAFC;"></div>
<div style="position:absolute;left:1840.5px;top:978.75px;width:176.5px;height:71.75px;background:#FAFAFC;"></div>
<div style="position:absolute;left:2021px;top:978.75px;width:176.5px;height:71.75px;background:#FAFAFC;"></div>
<div style="position:absolute;left:2201.5px;top:978.75px;width:176.5px;height:71.75px;background:#E9F3EC;"></div>
<div style="position:absolute;left:2382px;top:978.75px;width:178px;height:71.75px;background:#E9F3EC;"></div>
<div style="position:absolute;top:1003px;font-size:26px;line-height:26px;color:#141927;white-space:nowrap;letter-spacing:-0.196px;left:22.50px;">visual project management</div>
<svg style="left:432.60px;top:1004.92px" width="36" height="18.5" viewBox="0 0 36 18.5" ><path d="M15.9 1.75 H9.25 a7.5 7.5 0 0 0 0 15.0 H15.9" fill="none" stroke="#0A66D0" stroke-width="3.5"/><path d="M20.1 1.75 H26.75 a7.5 7.5 0 0 1 0 15.0 H20.1" fill="none" stroke="#0A66D0" stroke-width="3.5"/><path d="M10.8 9.25 H25.2" stroke="#0A66D0" stroke-width="3.5"/></svg>
<div style="position:absolute;top:1004px;font-size:25px;line-height:25px;color:#141927;white-space:nowrap;left:520.50px;width:200px;text-align:right;">70</div>
<div style="position:absolute;left:939.05px;top:1004px;width:176px;height:25px;display:flex;align-items:baseline;justify-content:center;font-size:25px;line-height:25px;white-space:nowrap"><span>11</span></div>
<div style="position:absolute;left:1119.55px;top:1004px;width:176px;height:25px;display:flex;align-items:baseline;justify-content:center;font-size:25px;line-height:25px;white-space:nowrap"><span>11</span></div>
<div style="position:absolute;left:1300.05px;top:1004px;width:176px;height:25px;display:flex;align-items:baseline;justify-content:center;font-size:25px;line-height:25px;white-space:nowrap"><span>11</span></div>
<div style="position:absolute;left:1480.55px;top:1004px;width:176px;height:25px;display:flex;align-items:baseline;justify-content:center;font-size:25px;line-height:25px;white-space:nowrap"><span>11</span></div>
<div style="position:absolute;left:1661.05px;top:1004px;width:176px;height:25px;display:flex;align-items:baseline;justify-content:center;font-size:25px;line-height:25px;white-space:nowrap"><span>11</span></div>
<div style="position:absolute;left:1841.55px;top:1004px;width:176px;height:25px;display:flex;align-items:baseline;justify-content:center;font-size:25px;line-height:25px;white-space:nowrap"><span>11</span></div>
<div style="position:absolute;left:2022.05px;top:1004px;width:176px;height:25px;display:flex;align-items:baseline;justify-content:center;font-size:25px;line-height:25px;white-space:nowrap"><span>11</span></div>
<div style="position:absolute;left:2202.55px;top:1004px;width:176px;height:25px;display:flex;align-items:baseline;justify-content:center;font-size:25px;line-height:25px;white-space:nowrap"><span>10</span><svg style="position:relative;margin-left:15px;top:-3.8px;flex:none" width="11.2" height="9.6" viewBox="0 0 11.2 9.6"><path d="M2 2.2 H9.2 L5.6 7.6 Z" fill="#1A7A45" stroke="#1A7A45" stroke-width="3.2" stroke-linejoin="round"/></svg><span style="font-size:21.5px;color:#1A7A45;margin-left:7px;position:relative;top:-2px">1</span></div>
<div style="position:absolute;left:2383.80px;top:1004px;width:176px;height:25px;display:flex;align-items:baseline;justify-content:center;font-size:25px;line-height:25px;white-space:nowrap"><span>10</span></div>
<div style="position:absolute;left:0px;top:1054.5px;width:356px;height:71.75px;background:#FFFFFF;"></div>
<div style="position:absolute;left:360px;top:1054.5px;width:176.5px;height:71.75px;background:#FFFFFF;"></div>
<div style="position:absolute;left:540.5px;top:1054.5px;width:212.5px;height:71.75px;background:#FFFFFF;"></div>
<div style="position:absolute;left:757px;top:1054.5px;width:177px;height:71.75px;background:#FFFFFF;"></div>
<div style="position:absolute;left:938px;top:1054.5px;width:176.5px;height:71.75px;background:#EDF7EE;"></div>
<div style="position:absolute;left:1118.5px;top:1054.5px;width:176.5px;height:71.75px;background:#EDF7EE;"></div>
<div style="position:absolute;left:1299px;top:1054.5px;width:176.5px;height:71.75px;background:#EDF7EE;"></div>
<div style="position:absolute;left:1479.5px;top:1054.5px;width:176.5px;height:71.75px;background:#EDF7EE;"></div>
<div style="position:absolute;left:1660px;top:1054.5px;width:176.5px;height:71.75px;background:#EDF7EE;"></div>
<div style="position:absolute;left:1840.5px;top:1054.5px;width:176.5px;height:71.75px;background:#EDF7EE;"></div>
<div style="position:absolute;left:2021px;top:1054.5px;width:176.5px;height:71.75px;background:#EDF7EE;"></div>
<div style="position:absolute;left:2201.5px;top:1054.5px;width:176.5px;height:71.75px;background:#EDF7EE;"></div>
<div style="position:absolute;left:2382px;top:1054.5px;width:178px;height:71.75px;background:#EDF7EE;"></div>
<div style="position:absolute;top:1079px;font-size:26px;line-height:26px;color:#141927;white-space:nowrap;letter-spacing:-0.016px;left:22.50px;">task tracker for teams</div>
<svg style="left:432.60px;top:1080.67px" width="36" height="18.5" viewBox="0 0 36 18.5" ><path d="M15.9 1.75 H9.25 a7.5 7.5 0 0 0 0 15.0 H15.9" fill="none" stroke="#0A66D0" stroke-width="3.5"/><path d="M20.1 1.75 H26.75 a7.5 7.5 0 0 1 0 15.0 H20.1" fill="none" stroke="#0A66D0" stroke-width="3.5"/><path d="M10.8 9.25 H25.2" stroke="#0A66D0" stroke-width="3.5"/></svg>
<div style="position:absolute;top:1080px;font-size:25px;line-height:25px;color:#141927;white-space:nowrap;left:520.50px;width:200px;text-align:right;">40</div>
<div style="position:absolute;left:939.05px;top:1080px;width:176px;height:25px;display:flex;align-items:baseline;justify-content:center;font-size:25px;line-height:25px;white-space:nowrap"><span>3</span></div>
<div style="position:absolute;left:1119.55px;top:1080px;width:176px;height:25px;display:flex;align-items:baseline;justify-content:center;font-size:25px;line-height:25px;white-space:nowrap"><span>3</span></div>
<div style="position:absolute;left:1300.05px;top:1080px;width:176px;height:25px;display:flex;align-items:baseline;justify-content:center;font-size:25px;line-height:25px;white-space:nowrap"><span>3</span></div>
<div style="position:absolute;left:1480.55px;top:1080px;width:176px;height:25px;display:flex;align-items:baseline;justify-content:center;font-size:25px;line-height:25px;white-space:nowrap"><span>3</span></div>
<div style="position:absolute;left:1661.05px;top:1080px;width:176px;height:25px;display:flex;align-items:baseline;justify-content:center;font-size:25px;line-height:25px;white-space:nowrap"><span>3</span></div>
<div style="position:absolute;left:1841.55px;top:1080px;width:176px;height:25px;display:flex;align-items:baseline;justify-content:center;font-size:25px;line-height:25px;white-space:nowrap"><span>3</span></div>
<div style="position:absolute;left:2022.05px;top:1080px;width:176px;height:25px;display:flex;align-items:baseline;justify-content:center;font-size:25px;line-height:25px;white-space:nowrap"><span>3</span></div>
<div style="position:absolute;left:2202.55px;top:1080px;width:176px;height:25px;display:flex;align-items:baseline;justify-content:center;font-size:25px;line-height:25px;white-space:nowrap"><span>3</span></div>
<div style="position:absolute;left:2383.80px;top:1080px;width:176px;height:25px;display:flex;align-items:baseline;justify-content:center;font-size:25px;line-height:25px;white-space:nowrap"><span>3</span></div>
<div style="position:absolute;left:0px;top:1130.25px;width:356px;height:73.75px;background:#FAFAFC;"></div>
<div style="position:absolute;left:360px;top:1130.25px;width:176.5px;height:73.75px;background:#FAFAFC;"></div>
<div style="position:absolute;left:540.5px;top:1130.25px;width:212.5px;height:73.75px;background:#FAFAFC;"></div>
<div style="position:absolute;left:757px;top:1130.25px;width:177px;height:73.75px;background:#FAFAFC;"></div>
<div style="position:absolute;left:938px;top:1130.25px;width:176.5px;height:73.75px;background:#E9F3EC;"></div>
<div style="position:absolute;left:1118.5px;top:1130.25px;width:176.5px;height:73.75px;background:#E9F3EC;"></div>
<div style="position:absolute;left:1299px;top:1130.25px;width:176.5px;height:73.75px;background:#E9F3EC;"></div>
<div style="position:absolute;left:1479.5px;top:1130.25px;width:176.5px;height:73.75px;background:#E9F3EC;"></div>
<div style="position:absolute;left:1660px;top:1130.25px;width:176.5px;height:73.75px;background:#E9F3EC;"></div>
<div style="position:absolute;left:1840.5px;top:1130.25px;width:176.5px;height:73.75px;background:#E9F3EC;"></div>
<div style="position:absolute;left:2021px;top:1130.25px;width:176.5px;height:73.75px;background:#E9F3EC;"></div>
<div style="position:absolute;left:2201.5px;top:1130.25px;width:176.5px;height:73.75px;background:#E9F3EC;"></div>
<div style="position:absolute;left:2382px;top:1130.25px;width:178px;height:73.75px;background:#E9F3EC;"></div>
<div style="position:absolute;top:1155px;font-size:26px;line-height:26px;color:#141927;white-space:nowrap;letter-spacing:-0.308px;left:22.50px;">free project management ...</div>
<svg style="left:432.60px;top:1157.42px" width="36" height="18.5" viewBox="0 0 36 18.5" ><path d="M15.9 1.75 H9.25 a7.5 7.5 0 0 0 0 15.0 H15.9" fill="none" stroke="#0A66D0" stroke-width="3.5"/><path d="M20.1 1.75 H26.75 a7.5 7.5 0 0 1 0 15.0 H20.1" fill="none" stroke="#0A66D0" stroke-width="3.5"/><path d="M10.8 9.25 H25.2" stroke="#0A66D0" stroke-width="3.5"/></svg>
<div style="position:absolute;top:1156px;font-size:25px;line-height:25px;color:#141927;white-space:nowrap;left:520.50px;width:200px;text-align:right;">10</div>
<div style="position:absolute;left:939.05px;top:1156px;width:176px;height:25px;display:flex;align-items:baseline;justify-content:center;font-size:25px;line-height:25px;white-space:nowrap"><span>2</span></div>
<div style="position:absolute;left:1119.55px;top:1156px;width:176px;height:25px;display:flex;align-items:baseline;justify-content:center;font-size:25px;line-height:25px;white-space:nowrap"><span>2</span></div>
<div style="position:absolute;left:1300.05px;top:1156px;width:176px;height:25px;display:flex;align-items:baseline;justify-content:center;font-size:25px;line-height:25px;white-space:nowrap"><span>2</span></div>
<div style="position:absolute;left:1480.55px;top:1156px;width:176px;height:25px;display:flex;align-items:baseline;justify-content:center;font-size:25px;line-height:25px;white-space:nowrap"><span>2</span></div>
<div style="position:absolute;left:1661.05px;top:1156px;width:176px;height:25px;display:flex;align-items:baseline;justify-content:center;font-size:25px;line-height:25px;white-space:nowrap"><span>2</span></div>
<div style="position:absolute;left:1841.55px;top:1156px;width:176px;height:25px;display:flex;align-items:baseline;justify-content:center;font-size:25px;line-height:25px;white-space:nowrap"><span>2</span></div>
<div style="position:absolute;left:2022.05px;top:1156px;width:176px;height:25px;display:flex;align-items:baseline;justify-content:center;font-size:25px;line-height:25px;white-space:nowrap"><span>7</span><svg style="position:relative;margin-left:15px;top:-5.2px;flex:none" width="11.2" height="9.6" viewBox="0 0 11.2 9.6"><path d="M5.6 2.0 L9.2 7.4 H2 Z" fill="#D5162A" stroke="#D5162A" stroke-width="3.2" stroke-linejoin="round"/></svg><span style="font-size:21.5px;color:#D5162A;margin-left:7px;position:relative;top:-2px">5</span></div>
<div style="position:absolute;left:2202.55px;top:1156px;width:176px;height:25px;display:flex;align-items:baseline;justify-content:center;font-size:25px;line-height:25px;white-space:nowrap"><span>7</span></div>
<div style="position:absolute;left:2383.80px;top:1156px;width:176px;height:25px;display:flex;align-items:baseline;justify-content:center;font-size:25px;line-height:25px;white-space:nowrap"><span>3</span><svg style="position:relative;margin-left:15px;top:-3.8px;flex:none" width="11.2" height="9.6" viewBox="0 0 11.2 9.6"><path d="M2 2.2 H9.2 L5.6 7.6 Z" fill="#1A7A45" stroke="#1A7A45" stroke-width="3.2" stroke-linejoin="round"/></svg><span style="font-size:21.5px;color:#1A7A45;margin-left:7px;position:relative;top:-2px">4</span></div>
<div style="position:absolute;left:0px;top:1204px;width:2478px;height:2px;background:#FBFBFE;"></div>
<div style="position:absolute;left:0px;top:1206px;width:2478px;height:56px;background:#F1F2FB;"></div>
<div style="position:absolute;top:1225px;font-size:20px;line-height:20px;color:#3F4450;white-space:nowrap;letter-spacing:-0.467px;left:2138.00px;">SHOW FULL REPORT</div>
<svg style="left:2372.40px;top:1230.40px" width="14.6" height="9.4" viewBox="0 0 14.6 9.4" ><path d="M1.2 8.200000000000001 L7.3 1.4 L13.4 8.200000000000001" fill="none" stroke="#3F4450" stroke-width="2.3" stroke-linecap="round" stroke-linejoin="round"/></svg>
<div style="position:absolute;top:1225px;font-size:20px;line-height:20px;color:#3F4450;white-space:nowrap;letter-spacing:-0.396px;left:2403.70px;">HIDE</div>
</div>
<div style="position:absolute;left:177px;top:1459px;width:2553px;height:88px;background:#FAFAFC;"></div>
<svg style="left:213.70px;top:1488.30px" width="38.1" height="43.2" viewBox="0 0 38.1 43.2" ><path d="M0 19.2 L18.8 0.4 Q19.2 0 19.8 0 L26.4 0 Q28.4 0 28.4 2 L28.4 9.2 Q28.4 10 27.8 10.6 L21 17.2 Q19 19.2 16.4 19.2 Z" fill="#121626"/><path d="M6.8 32.9 L18.4 22.2 Q20 20.7 22 20.7 L38.1 20.7 L15.8 43.2 L15.8 35.5 Q15.8 32.9 13.4 32.9 Z" fill="#121626"/></svg>
<div style="position:absolute;top:1500px;font-size:24.5px;line-height:24.5px;color:#141927;white-space:nowrap;letter-spacing:-0.338px;left:268.00px;">SE Ranking</div>
<div style="position:absolute;top:1499px;font-size:25.5px;line-height:25.5px;color:#5E7888;white-space:nowrap;letter-spacing:-0.252px;left:1937.67px;width:300px;text-align:center;">Report a bug</div>
<div style="position:absolute;top:1499px;font-size:25.5px;line-height:25.5px;color:#5E7888;white-space:nowrap;letter-spacing:0.639px;left:2113.17px;width:300px;text-align:center;">Affiliates</div>
<div style="position:absolute;top:1499px;font-size:25.5px;line-height:25.5px;color:#5E7888;white-space:nowrap;letter-spacing:-0.701px;left:2235.15px;width:300px;text-align:center;">API</div>
<div style="position:absolute;top:1499px;font-size:25.5px;line-height:25.5px;color:#5E7888;white-space:nowrap;letter-spacing:0.111px;left:2372.81px;width:300px;text-align:center;">What's new</div>
<div style="position:absolute;top:1499px;font-size:25.5px;line-height:25.5px;color:#5E7888;white-space:nowrap;letter-spacing:0.139px;left:2516.57px;width:300px;text-align:center;">Help</div>
<div style="position:absolute;left:2729px;top:0px;width:1px;height:1459px;background:#F9F9FB;"></div>
<div style="position:absolute;left:177px;top:0px;width:2px;height:1547px;background:#FFFFFF;"></div>
<div style="position:absolute;left:153.4px;top:16.2px;width:47px;height:47px;background:#FFFFFF;border-radius:50%;"></div>
<div style="position:absolute;left:0px;top:0px;width:177px;height:1547px;background:#262F3D;"></div>
<div style="position:absolute;left:175.4px;top:0px;width:1.6px;height:1547px;background:#16202D;"></div>
<div style="position:absolute;left:146.4px;top:0px;width:1.6px;height:1547px;background:#434F5D;"></div>
<div style="position:absolute;left:14px;top:14px;width:118px;height:91px;background:#4F5F70;border-radius:9px;"></div>
<svg style="left:59.30px;top:31.60px" width="27.5" height="30" viewBox="0 0 27.5 30" ><path d="M1.4 12.6 L13.75 1.9 L26.1 12.6 V25.4 a3.2 3.2 0 0 1 -3.2 3.2 H4.6 a3.2 3.2 0 0 1 -3.2 -3.2 Z" fill="none" stroke="#F2F2F7" stroke-width="2.7" stroke-linecap="round" stroke-linejoin="round"/><path d="M8.9 28.4 V21 a4.85 4.85 0 0 1 9.7 0 V28.4" fill="none" stroke="#F2F2F7" stroke-width="2.7" stroke-linecap="round" stroke-linejoin="round"/></svg>
<div style="position:absolute;top:72px;font-size:18px;line-height:18px;color:#F2F2F7;white-space:nowrap;letter-spacing:0.210px;left:3.41px;width:140px;text-align:center;">Projects</div>
<svg style="left:56.60px;top:127.00px" width="33.4" height="27.5" viewBox="0 0 33.4 27.5" ><rect x="3.2" y="1.6" width="26.8" height="19.8" rx="1.8" fill="none" stroke="#F2F2F7" stroke-width="2.7" stroke-linecap="round" stroke-linejoin="round"/><path d="M1.3 25.8 H32.1" fill="none" stroke="#F2F2F7" stroke-width="3" stroke-linecap="round" stroke-linejoin="round"/><circle cx="15.9" cy="10.6" r="4.3" fill="none" stroke="#F2F2F7" stroke-width="2.4" stroke-linecap="round" stroke-linejoin="round"/><path d="M19.2 13.9 L22.4 17.2" fill="none" stroke="#F2F2F7" stroke-width="2.4" stroke-linecap="round" stroke-linejoin="round"/></svg>
<div style="position:absolute;top:166px;font-size:18px;line-height:18px;color:#F2F2F7;white-space:nowrap;letter-spacing:-0.441px;left:3.08px;width:140px;text-align:center;">Research</div>
<svg style="left:56.22px;top:217.52px" width="33.96" height="33.96" viewBox="0 0 24 24" ><path d="M10 13a5 5 0 0 0 7.54.54l3-3a5 5 0 0 0-7.07-7.07l-1.72 1.71" fill="none" stroke="#F2F2F7" stroke-width="1.9081272084805654" stroke-linecap="round" stroke-linejoin="round"/><path d="M14 11a5 5 0 0 0-7.54-.54l-3 3a5 5 0 0 0 7.07 7.07l1.71-1.71" fill="none" stroke="#F2F2F7" stroke-width="1.9081272084805654" stroke-linecap="round" stroke-linejoin="round"/></svg>
<div style="position:absolute;top:260px;font-size:18px;line-height:18px;color:#F2F2F7;white-space:nowrap;letter-spacing:0.186px;left:3.39px;width:140px;text-align:center;">Backlinks</div>
<svg style="left:57.70px;top:313.30px" width="30.4" height="30.4" viewBox="0 0 30.4 30.4" ><circle cx="15.2" cy="15.2" r="13.8" fill="none" stroke="#F2F2F7" stroke-width="2.7" stroke-linecap="round" stroke-linejoin="round"/><path d="M8.3 15.6 L13.2 20 L21.9 10.9" fill="none" stroke="#F2F2F7" stroke-width="2.9" stroke-linecap="round" stroke-linejoin="round"/></svg>
<div style="position:absolute;left:91.1px;top:310.5px;width:11px;height:11px;background:#63BE8A;border-radius:50%;"></div>
<div style="position:absolute;top:353px;font-size:18px;line-height:18px;color:#F2F2F7;white-space:nowrap;letter-spacing:0.735px;left:3.67px;width:140px;text-align:center;">Audit</div>
<svg style="left:56.70px;top:406.00px" width="33" height="33" viewBox="0 0 33 33" ><path d="M11.6 6.100000000000001 Q14.456 13.444 21.799999999999997 16.3 Q14.456 19.156 11.6 26.5 Q8.744 19.156 1.4000000000000004 16.3 Q8.744 13.444 11.6 6.100000000000001 Z" fill="none" stroke="#F2F2F7" stroke-width="2.5" stroke-linecap="round" stroke-linejoin="round"/><path d="M27.3 1.1000000000000005 Q28.22 4.78 31.9 5.7 Q28.22 6.62 27.3 10.3 Q26.380000000000003 6.62 22.700000000000003 5.7 Q26.380000000000003 4.78 27.3 1.1000000000000005 Z" fill="#F2F2F7" stroke="#F2F2F7" stroke-width="1.4" stroke-linejoin="round"/><path d="M26.9 22.299999999999997 Q27.82 25.979999999999997 31.5 26.9 Q27.82 27.82 26.9 31.5 Q25.979999999999997 27.82 22.299999999999997 26.9 Q25.979999999999997 25.979999999999997 26.9 22.299999999999997 Z" fill="#F2F2F7" stroke="#F2F2F7" stroke-width="1.4" stroke-linejoin="round"/></svg>
<div style="position:absolute;top:447px;font-size:18px;line-height:18px;color:#F2F2F7;white-space:nowrap;letter-spacing:-0.282px;left:3.16px;width:140px;text-align:center;">AI Search</div>
<div style="position:absolute;left:28.8px;top:476.7px;width:88.5px;height:36px;background:#E4F9EA;border-radius:9px;"></div>
<div style="position:absolute;top:488px;font-size:18px;line-height:18px;color:#25A85C;white-space:nowrap;font-weight:700;-webkit-text-stroke:0;letter-spacing:-0.337px;left:29.13px;width:88px;text-align:center;">New</div>
<svg style="left:57.70px;top:547.30px" width="30.8" height="30.8" viewBox="0 0 30.8 30.8" ><path d="M13.4 3.4 H4.6 a3.2 3.2 0 0 0 -3.2 3.2 V26.2 a3.2 3.2 0 0 0 3.2 3.2 H26.2 a3.2 3.2 0 0 0 3.2 -3.2 V17.4" fill="none" stroke="#F2F2F7" stroke-width="2.7" stroke-linecap="round" stroke-linejoin="round"/><g transform="translate(-5.05 -1.58) scale(1.56)"><path d="M18.5 2.5a2.121 2.121 0 0 1 3 3L12 15l-4 1 1-4 9.5-9.5z" fill="none" stroke="#F2F2F7" stroke-width="1.7307692307692308" stroke-linecap="round" stroke-linejoin="round"/><path d="M16.3 4.8l2.9 2.9" fill="none" stroke="#F2F2F7" stroke-width="1.7307692307692308" stroke-linecap="round" stroke-linejoin="round"/></g></svg>
<div style="position:absolute;top:588px;font-size:18px;line-height:18px;color:#F2F2F7;white-space:nowrap;letter-spacing:0.609px;left:3.60px;width:140px;text-align:center;">Content</div>
<div style="position:absolute;top:609px;font-size:18px;line-height:18px;color:#F2F2F7;white-space:nowrap;letter-spacing:0.575px;left:3.59px;width:140px;text-align:center;">Marketing</div>
<svg style="left:57.97px;top:663.07px" width="30.6545" height="30.6545" viewBox="0 0 24 24" ><path d="M21 10c0 7-9 13-9 13s-9-6-9-13a9 9 0 0 1 18 0z" fill="none" stroke="#F2F2F7" stroke-width="2.113879003558719" stroke-linecap="round" stroke-linejoin="round"/><circle cx="12" cy="10" r="3" fill="none" stroke="#F2F2F7" stroke-width="2.113879003558719" stroke-linecap="round" stroke-linejoin="round"/></svg>
<div style="position:absolute;top:703px;font-size:18px;line-height:18px;color:#F2F2F7;white-space:nowrap;letter-spacing:0.014px;left:3.31px;width:140px;text-align:center;">Local</div>
<div style="position:absolute;top:724px;font-size:18px;line-height:18px;color:#F2F2F7;white-space:nowrap;letter-spacing:0.575px;left:3.59px;width:140px;text-align:center;">Marketing</div>
<svg style="left:56.26px;top:777.36px" width="33.48" height="33.48" viewBox="0 0 24 24" ><path d="M20.2 15.6A9.3 9.3 0 1 1 8.4 3.8 L11 3.3 V12.9 H20.7 Z" fill="none" stroke="#F2F2F7" stroke-width="1.935483870967742" stroke-linecap="round" stroke-linejoin="round"/><path d="M22 10.2A8.2 8.2 0 0 0 13.8 2v8.2z" fill="none" stroke="#F2F2F7" stroke-width="1.935483870967742" stroke-linecap="round" stroke-linejoin="round"/></svg>
<div style="position:absolute;top:819px;font-size:18px;line-height:18px;color:#F2F2F7;white-space:nowrap;letter-spacing:0.380px;left:3.49px;width:140px;text-align:center;">Report</div>
<div style="position:absolute;top:840px;font-size:18px;line-height:18px;color:#F2F2F7;white-space:nowrap;letter-spacing:0.182px;left:3.39px;width:140px;text-align:center;">Builder</div>
<svg style="left:58.40px;top:894.00px" width="29.3" height="30.8" viewBox="0 0 29.3 30.8" ><path d="M4.4 29.2 V1.5 H24.9 V29.2" fill="none" stroke="#F2F2F7" stroke-width="2.7" stroke-linecap="round" stroke-linejoin="round"/><path d="M1.4 29.3 H27.9" fill="none" stroke="#F2F2F7" stroke-width="2.9" stroke-linecap="round" stroke-linejoin="round"/><path d="M11 29 V21.6 H18.3 V29" fill="none" stroke="#F2F2F7" stroke-width="2.4" stroke-linecap="round" stroke-linejoin="round"/><path d="M10.4 8.4 H11.6 M17.7 8.4 H18.9 M10.4 14.4 H11.6 M17.7 14.4 H18.9" fill="none" stroke="#F2F2F7" stroke-width="2.7" stroke-linecap="round" stroke-linejoin="round"/></svg>
<div style="position:absolute;top:934px;font-size:18px;line-height:18px;color:#F2F2F7;white-space:nowrap;letter-spacing:-0.156px;left:3.22px;width:140px;text-align:center;">Agency</div>
<div style="position:absolute;top:956px;font-size:18px;line-height:18px;color:#F2F2F7;white-space:nowrap;letter-spacing:-0.379px;left:3.11px;width:140px;text-align:center;">Pack</div>
<svg style="left:56.87px;top:1009.00px" width="32.4" height="32.4" viewBox="0 0 32.4 32.4" ><path d="M10.10 6.90 L16.20 0.80 L22.30 6.90 L19.20 10.00 L16.20 7.00 L13.20 10.00 Z" fill="none" stroke="#F2F2F7" stroke-width="2.1" stroke-linejoin="round"/><path d="M25.50 10.10 L31.60 16.20 L25.50 22.30 L22.40 19.20 L25.40 16.20 L22.40 13.20 Z" fill="none" stroke="#F2F2F7" stroke-width="2.1" stroke-linejoin="round"/><path d="M22.30 25.50 L16.20 31.60 L10.10 25.50 L13.20 22.40 L16.20 25.40 L19.20 22.40 Z" fill="none" stroke="#F2F2F7" stroke-width="2.1" stroke-linejoin="round"/><path d="M6.90 22.30 L0.80 16.20 L6.90 10.10 L10.00 13.20 L7.00 16.20 L10.00 19.20 Z" fill="none" stroke="#F2F2F7" stroke-width="2.1" stroke-linejoin="round"/><path d="M16.2 13.2 L19.2 16.2 L16.2 19.2 L13.2 16.2 Z" fill="#F2F2F7"/></svg>
<div style="position:absolute;top:1050px;font-size:18px;line-height:18px;color:#F2F2F7;white-space:nowrap;letter-spacing:-0.438px;left:3.08px;width:140px;text-align:center;">API</div>
<svg style="left:56.36px;top:1102.96px" width="32.28" height="32.28" viewBox="0 0 24 24" ><path d="M14 9V5a3 3 0 0 0-3-3l-4 9v11h11.28a2 2 0 0 0 2-1.7l1.38-9a2 2 0 0 0-2-2.3zM7 22H4a2 2 0 0 1-2-2v-7a2 2 0 0 1 2-2h3" fill="none" stroke="#F2F2F7" stroke-width="2.007434944237918" stroke-linecap="round" stroke-linejoin="round"/></svg>
<div style="position:absolute;top:1143px;font-size:18px;line-height:18px;color:#F2F2F7;white-space:nowrap;letter-spacing:0.669px;left:3.63px;width:140px;text-align:center;">SMM</div>
<div style="position:absolute;left:28.8px;top:1173.2px;width:88.5px;height:36.1px;background:#F3F0FF;border-radius:9px;"></div>
<div style="position:absolute;top:1182px;font-size:20px;line-height:20px;color:#A552E6;white-space:nowrap;left:29.00px;width:88px;text-align:center;">-20%</div>
<div style="position:absolute;left:155.6px;top:18.1px;width:43.2px;height:43.2px;background:#262F3D;border-radius:50%;border:1.5px solid #3E4A58;"></div>
<svg style="left:172.20px;top:32.10px" width="9.8" height="15.6" viewBox="0 0 9.8 15.6" ><path d="M1.6 1.95 L7.9 7.8 L1.6 13.65" fill="none" stroke="#FFFFFF" stroke-width="2.7" stroke-linecap="round" stroke-linejoin="round"/></svg>
</div></body></html>
